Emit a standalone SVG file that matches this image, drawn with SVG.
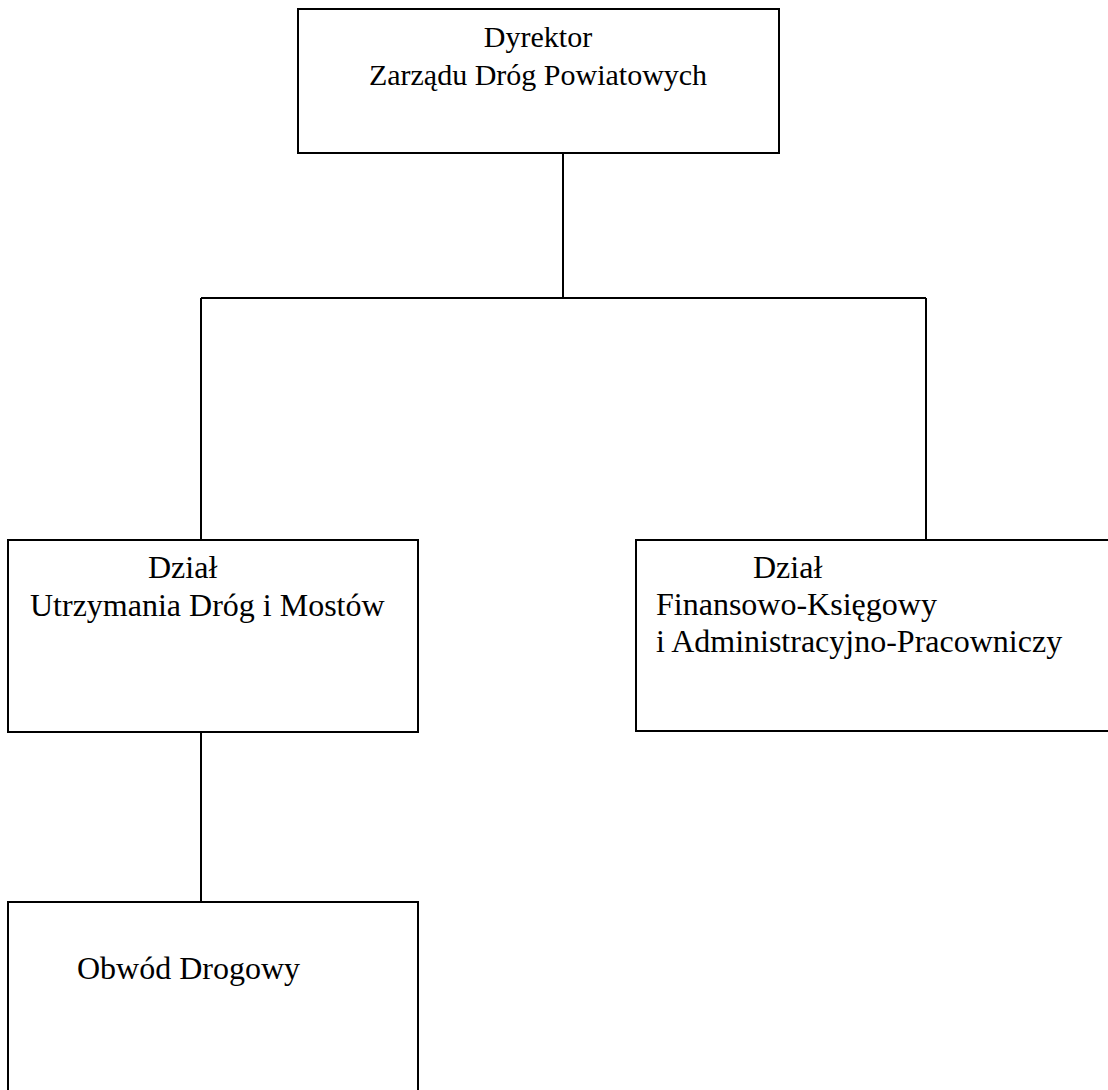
<svg xmlns="http://www.w3.org/2000/svg" width="1108" height="1090" viewBox="0 0 1108 1090">
  <style>
    .box { fill: #ffffff; stroke: #000000; stroke-width: 2; }
    .conn { fill: none; stroke: #000000; stroke-width: 2; }
    text { font-family: "Liberation Serif", "Times New Roman", serif; font-size: 32px; fill: #000000; }
    .top { font-size: 30px; }
  </style>
  <rect x="0" y="0" width="1108" height="1090" fill="#ffffff"/>
  <g id="connectors">
    <line class="conn" x1="563" y1="153" x2="563" y2="298"/>
    <line class="conn" x1="201" y1="298" x2="926" y2="298"/>
    <line class="conn" x1="201" y1="298" x2="201" y2="540"/>
    <line class="conn" x1="926" y1="298" x2="926" y2="540"/>
    <line class="conn" x1="201" y1="732" x2="201" y2="902"/>
  </g>
  <g id="node-dyrektor">
    <rect class="box" x="298" y="9" width="481" height="144"/>
    <text class="top" x="538" y="47" text-anchor="middle">Dyrektor</text>
    <text class="top" x="538" y="85" text-anchor="middle">Zarządu Dróg Powiatowych</text>
  </g>
  <g id="node-utrzymania">
    <rect class="box" x="8" y="540" width="410" height="192"/>
    <text x="148" y="578">Dział</text>
    <text x="30" y="616">Utrzymania Dróg i Mostów</text>
  </g>
  <g id="node-finansowo">
    <rect class="box" x="636" y="540" width="490" height="191"/>
    <text x="753" y="578">Dział</text>
    <text x="656" y="615">Finansowo-Księgowy</text>
    <text x="656" y="652">i Administracyjno-Pracowniczy</text>
  </g>
  <g id="node-obwod">
    <rect class="box" x="8" y="902" width="410" height="210"/>
    <text x="77" y="979">Obwód Drogowy</text>
  </g>
</svg>
